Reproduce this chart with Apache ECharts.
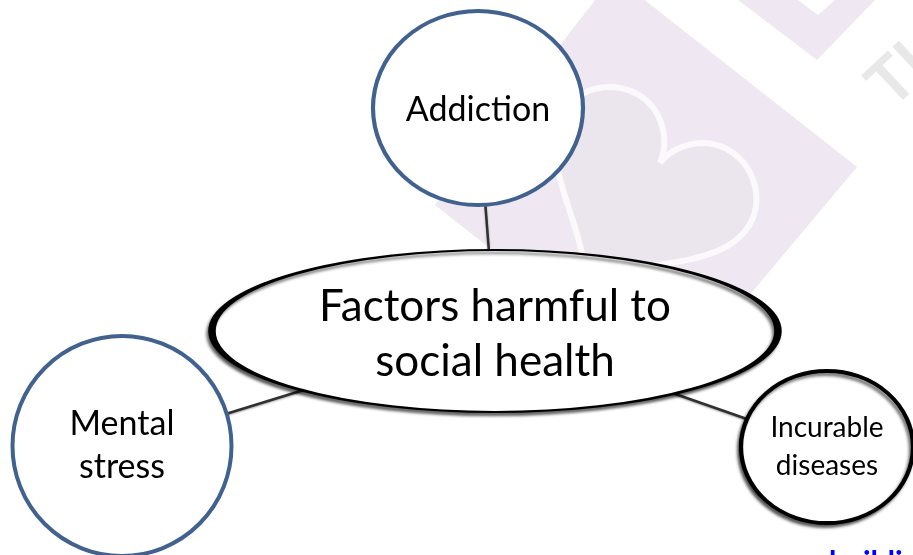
<!DOCTYPE html>
<html>
<head>
<meta charset="utf-8">
<script src="https://cdn.jsdelivr.net/npm/echarts@6/dist/echarts.min.js"></script>
<style>
html,body{margin:0;padding:0;background:#fff;}
#c{width:913px;height:555px;}
</style>
</head>
<body>
<div id="c"></div>
<script>
// ---- data ----
var nodeLabels = ['Factors harmful to\nsocial health', 'Addiction', 'Mental\nstress', 'Incurable\ndiseases'];
var links = [[0, 1], [0, 2], [0, 3]];
var footerText = 'building';

// ---- layout (positions / sizes / styles) ----
var nodePos = [[495, 331], [478, 108], [122, 446], [827, 447]];
var nodeSize = [[566, 162], [210, 194], [219, 220], [172, 152]];
var nodeBorder = ['#000000', '#41628f', '#41628f', '#000000'];
var nodeShadow = [true, false, false, true];
var nodeFont = [44, 34, 34, 28];
var nodeLine = [55, 43, 43, 38];
var nodeLabelOffset = [[0, 3], [0, 2], [0, 0], [0, 0]];
var FONT = 'Lato, "Open Sans", sans-serif';
var ELLIPSE = 'path://M0,50A50,50 0 1,1 100,50A50,50 0 1,1 0,50Z';

var nodes = nodeLabels.map(function (name, i) {
  return {
    name: name,
    value: nodePos[i],
    symbol: ELLIPSE,
    symbolSize: nodeSize[i],
    itemStyle: {
      color: '#ffffff',
      borderColor: nodeBorder[i],
      borderWidth: 4,
      shadowColor: nodeShadow[i] ? 'rgba(0,0,0,0.55)' : 'rgba(0,0,0,0)',
      shadowBlur: nodeShadow[i] ? 3 : 0,
      shadowOffsetX: nodeShadow[i] ? -2 : 0,
      shadowOffsetY: nodeShadow[i] ? 3 : 0
    },
    label: {
      show: true,
      position: 'inside',
      offset: nodeLabelOffset[i],
      color: '#000',
      fontFamily: FONT,
      fontSize: nodeFont[i],
      lineHeight: nodeLine[i],
      align: 'center',
      verticalAlign: 'middle'
    }
  };
});
var edges = links.map(function (l) { return { source: l[0], target: l[1] }; });

// decorative watermark heart outline (background)
function heartPoints(cx, cy, s, rot) {
  var pts = [];
  for (var k = 0; k < 120; k++) {
    var t = k / 120 * Math.PI * 2;
    var x = 16 * Math.pow(Math.sin(t), 3);
    var y = -(13 * Math.cos(t) - 5 * Math.cos(2 * t) - 2 * Math.cos(3 * t) - Math.cos(4 * t));
    var xr = x * Math.cos(rot) - y * Math.sin(rot);
    var yr = x * Math.sin(rot) + y * Math.cos(rot);
    pts.push([cx + xr * s, cy + yr * s]);
  }
  return pts;
}

var chart = echarts.init(document.getElementById('c'), null, { renderer: 'canvas' });
chart.setOption({
  backgroundColor: '#ffffff',
  animation: false,
  grid: { left: 0, right: 0, top: 0, bottom: 0 },
  xAxis: { type: 'value', min: 0, max: 913, show: false },
  yAxis: { type: 'value', min: 0, max: 555, inverse: true, show: false },
  graphic: {
    elements: [
      { type: 'polygon', z: -10, shape: { points: [[614, -24], [857, 167], [670, 390], [435, 205]] },
        style: { fill: '#efe7f1' } },
      { type: 'polygon', z: -10, shape: { points: [[738, 0], [817, 60], [875, 0]] }, style: { fill: '#efe7f1' } },
      { type: 'polygon', z: -9, shape: { points: [[798, 0], [818, 15], [835, 0]] }, style: { fill: '#ffffff' } },
      { type: 'polygon', z: -8, shape: { points: heartPoints(642, 192, 6.8, 0.55) },
        style: { fill: '#ebe5ed', stroke: '#fbf9fb', lineWidth: 6 } },
      { type: 'text', z: -8, x: 878, y: 95, rotation: 0.75,
        style: { text: 'TI', fill: '#e8e8e8', font: 'bold 64px ' + FONT, textAlign: 'left', textVerticalAlign: 'middle' } },
      { type: 'text', z: 10, x: 829, y: 548,
        style: { text: footerText, fill: '#0000ff', font: 'bold 30px ' + FONT, textAlign: 'left', textVerticalAlign: 'top' } }
    ]
  },
  series: [{
    type: 'graph',
    coordinateSystem: 'cartesian2d',
    layout: 'none',
    data: nodes,
    links: edges,
    lineStyle: { color: '#303030', width: 2.5, opacity: 1, curveness: 0,
      shadowColor: 'rgba(0,0,0,0.35)', shadowBlur: 2, shadowOffsetY: 1 },
    emphasis: { disabled: true },
    silent: true
  }]
});
</script>
</body>
</html>
